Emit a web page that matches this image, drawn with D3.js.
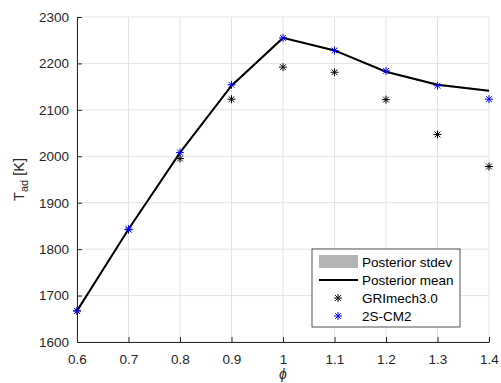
<!DOCTYPE html>
<html>
<head>
<meta charset="utf-8">
<script src="https://cdn.jsdelivr.net/npm/d3@7"></script>
<style>
  body { margin: 0; background: #fff; }
  text { font-family: "Liberation Sans", Arial, sans-serif; }
</style>
</head>
<body>
<svg id="chart" width="501" height="383"></svg>
<script>
// equivalence ratio
let phi = [0.6, 0.7, 0.8, 0.9, 1.0, 1.1, 1.2, 1.3, 1.4]
let posteriorMean = [1667, 1843, 2008, 2152, 2255, 2228, 2182, 2154, 2141]
let posteriorStd = [2, 2, 2, 2, 2, 2, 2, 2, 2]
let griMech = [1667, 1842, 1995, 2123, 2192, 2181, 2122, 2047, 1978]
let cm2 = [1667, 1843, 2008, 2154, 2255, 2228, 2184, 2152, 2123]
let xTicks = [0.6, 0.7, 0.8, 0.9, 1, 1.1, 1.2, 1.3, 1.4]
let yTicks = [1600, 1700, 1800, 1900, 2000, 2100, 2200, 2300]

let margin = { left: 77, right: 12, top: 17, bottom: 41 }
let width = 501 - margin.left - margin.right
let height = 383 - margin.top - margin.bottom
let axisColor = "#262626"

let svg = d3.select('#chart')
let g = svg.append('g').attr("transform", "translate(" + margin.left + "," + margin.top + ")")

let x = d3.scaleLinear().domain([0.6, 1.4]).range([0, width])
let y = d3.scaleLinear().domain([1600, 2300]).range([height, 0])

// grid
g.append('g').selectAll('line').data(xTicks).join('line')
    .attr('x1', d => x(d)).attr('x2', d => x(d))
    .attr('y1', 0).attr('y2', height)
    .attr('stroke', '#e3e3e3').attr('stroke-width', 1)
g.append('g').selectAll('line').data(yTicks).join('line')
    .attr('x1', 0).attr('x2', width)
    .attr('y1', d => y(d)).attr('y2', d => y(d))
    .attr('stroke', '#e3e3e3').attr('stroke-width', 1)

// stdev band
let band = d3.area()
    .x((d, i) => x(phi[i]))
    .y0((d, i) => y(posteriorMean[i] - posteriorStd[i]))
    .y1((d, i) => y(posteriorMean[i] + posteriorStd[i]))
g.append('path').datum(phi).attr('d', band).attr('fill', '#b3b3b3')

// mean line
let line = d3.line().x((d, i) => x(phi[i])).y(d => y(d))
g.append('path').datum(posteriorMean).attr('d', line)
    .attr('fill', 'none').attr('stroke', '#000').attr('stroke-width', 2)

// axes
let xAxis = g.append('g').attr("transform", "translate(0," + height + ")")
    .call(d3.axisBottom(x).tickValues(xTicks).tickSizeInner(-5).tickSizeOuter(0).tickPadding(12).tickFormat(d3.format('')))
let yAxis = g.append('g')
    .call(d3.axisLeft(y).tickValues(yTicks).tickSizeInner(-5).tickSizeOuter(0).tickPadding(8).tickFormat(d3.format('d')))
for (let ax of [xAxis, yAxis]) {
    ax.select('.domain').attr('stroke', axisColor)
    ax.selectAll('.tick line').attr('stroke', axisColor)
    ax.selectAll('.tick text').attr('fill', axisColor).style('font-size', '13.5px')
}

function asterisk(sel, r, color) {
    let s = r * 0.72
    sel.append('path')
        .attr('d', "M" + (-r) + ",0H" + r + "M0," + (-r) + "V" + r +
            "M" + (-s) + "," + (-s) + "L" + s + "," + s + "M" + (-s) + "," + s + "L" + s + "," + (-s))
        .attr('stroke', color).attr('stroke-width', 1).attr('fill', 'none')
}

// markers
g.append('g').selectAll('g').data(griMech).join('g')
    .attr('transform', (d, i) => "translate(" + x(phi[i]) + "," + y(d) + ")")
    .each(function () { asterisk(d3.select(this), 4, '#000') })
g.append('g').selectAll('g').data(cm2).join('g')
    .attr('transform', (d, i) => "translate(" + x(phi[i]) + "," + y(d) + ")")
    .each(function () { asterisk(d3.select(this), 4, '#0000ff') })

// axis labels
svg.append('text').attr('x', margin.left + width / 2).attr('y', 379)
    .attr('text-anchor', 'middle').style('font-size', '14px').style('font-style', 'italic')
    .attr('fill', axisColor).text('ϕ')
let yl = svg.append('text').attr('transform', 'translate(24,' + (margin.top + height / 2) + ') rotate(-90)')
    .attr('text-anchor', 'middle').style('font-size', '14.5px').attr('fill', axisColor)
yl.append('tspan').text('T')
yl.append('tspan').attr('dy', 4).style('font-size', '11px').text('ad')
yl.append('tspan').attr('dy', -4).text(' [K]')

// legend
let lg = svg.append('g').attr('transform', 'translate(312,249)')
lg.append('rect').attr('width', 148).attr('height', 78)
    .attr('fill', '#fff').attr('stroke', axisColor).attr('stroke-width', 0.8)
let legendItems = ['Posterior stdev', 'Posterior mean', 'GRImech3.0', '2S-CM2']
legendItems.forEach(function (name, i) {
    let cy = 13 + i * 18
    let row = lg.append('g').attr('transform', 'translate(0,' + cy + ')')
    if (i == 0) row.append('rect').attr('x', 7).attr('y', -7).attr('width', 39).attr('height', 13).attr('fill', '#b3b3b3')
    if (i == 1) row.append('line').attr('x1', 7).attr('x2', 46).attr('stroke', '#000').attr('stroke-width', 2)
    if (i == 2) asterisk(row.append('g').attr('transform', 'translate(26,0)'), 4, '#000')
    if (i == 3) asterisk(row.append('g').attr('transform', 'translate(26,0)'), 4, '#0000ff')
    row.append('text').attr('x', 50).attr('y', 4.5).style('font-size', '13.5px').attr('fill', '#000').text(name)
})
</script>
</body>
</html>
